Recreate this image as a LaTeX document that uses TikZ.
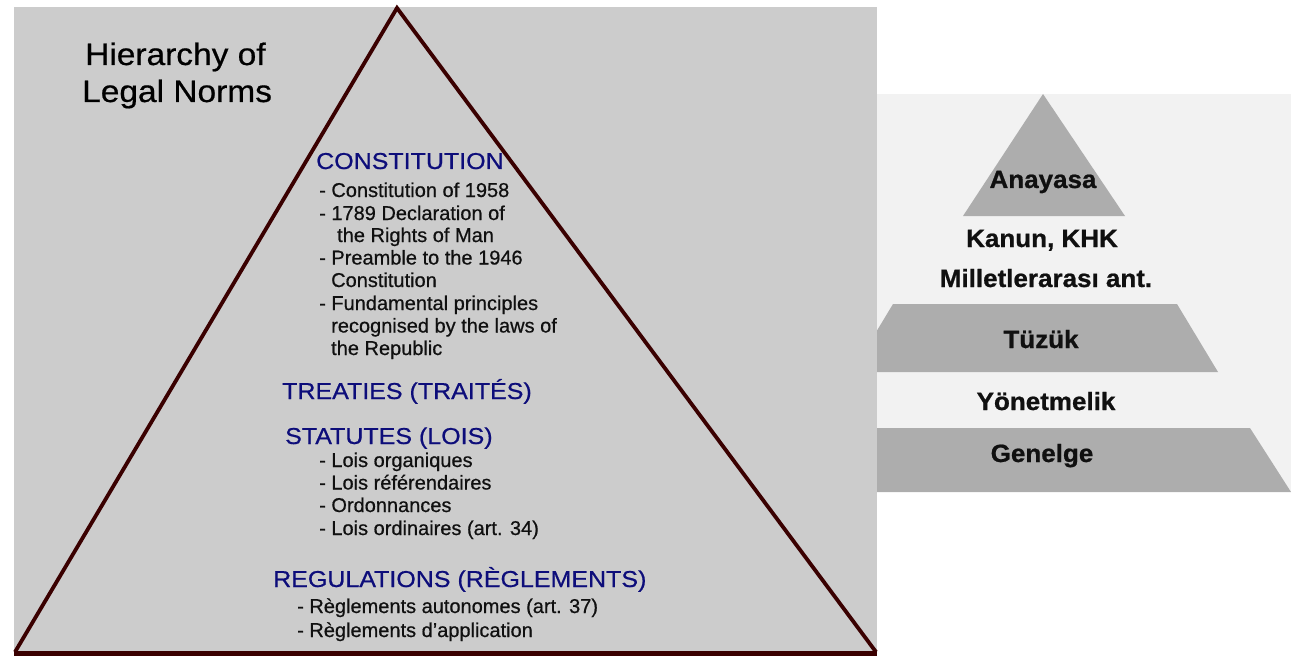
\documentclass[tikz,border=0pt]{standalone}
\usepackage{fontspec}
\setmainfont{Liberation Sans}
\newfontfamily\lefttxt[FakeBold=0.6]{Liberation Sans}
\newfontfamily\righttxt[FakeBold=0.8]{Liberation Sans Bold}
\definecolor{panelgrey}{HTML}{CCCCCC}
\definecolor{rightbg}{HTML}{F2F2F2}
\definecolor{shapegrey}{HTML}{ADADAD}
\definecolor{triline}{HTML}{3A0000}
\definecolor{headblue}{HTML}{0D0D7A}
\definecolor{bodyc}{HTML}{101010}
\tikzset{
  head/.style={anchor=base west, inner sep=0pt, text=headblue, font=\lefttxt\fontsize{23}{23}\selectfont},
  body/.style={anchor=base west, inner sep=0pt, text=bodyc, font=\lefttxt\fontsize{20}{20}\selectfont},
  titletext/.style={anchor=base west, inner sep=0pt, text=black, font=\lefttxt\fontsize{31}{31}\selectfont},
  rtext/.style={anchor=base, inner sep=0pt, text=bodyc, font=\righttxt\fontsize{25}{25}\selectfont},
  triedge/.style={draw=triline, line width=3.8pt, line join=miter},
}
\newcommand{\hs}[1]{\scalebox{1.087}[1]{#1}}
\begin{document}
\begin{tikzpicture}[x=1pt,y=-1pt]
\useasboundingbox (0,0) rectangle (1299,658);
% panels
\fill[panelgrey] (14,7) rectangle (877,656);
\fill[rightbg] (877,94) rectangle (1291,492);
\begin{scope}
  \clip (877,94) rectangle (1291,492);
  \fill[shapegrey] (1043,94) -- (1125,216) -- (963,216) -- cycle;
  \fill[shapegrey] (893,304) -- (1177,304) -- (1218,372) -- (852,372) -- cycle;
  \fill[shapegrey] (860,428) -- (1250,428) -- (1291,492) -- (860,492) -- cycle;
\end{scope}
% big triangle
\coordinate (apex) at (397,8);
\coordinate (bl) at (15,652);
\coordinate (br) at (876,652);
\draw[triedge] (bl) -- (apex) -- (br);
\draw[draw=triline, line width=5pt] (14,653) -- (877,653);
% title
\node[titletext] (t1) at (85,65) {\scalebox{1.08}[1]{Hierarchy of}};
\node[titletext] (t2) at (82,102) {\scalebox{1.08}[1]{Legal Norms}};
% constitution
\node[head] (h1) at (316,169) {\hs{CONSTITUTION}};
\node[body] (c1) at (319,197) {- Constitution of 1958};
\node[body] (c2) at (319,220) {- 1789 Declaration of};
\node[body] (c3) at (337,242) {the Rights of Man};
\node[body] (c4) at (319,264.5) {- Preamble to the 1946};
\node[body] (c5) at (331,287) {Constitution};
\node[body] (c6) at (319,310) {- Fundamental principles};
\node[body] (c7) at (331,332.5) {recognised by the laws of};
\node[body] (c8) at (331,355) {the Republic};
% treaties
\node[head] (h2) at (282,399) {\hs{TREATIES (TRAITÉS)}};
% statutes
\node[head] (h3) at (285,444) {\hs{STATUTES (LOIS)}};
\node[body] (s1) at (319,467) {- Lois organiques};
\node[body] (s2) at (319,489.5) {- Lois référendaires};
\node[body] (s3) at (319,512) {- Ordonnances};
\node[body] (s4) at (319,535) {- Lois ordinaires (art. 34)};
% regulations
\node[head] (h4) at (273,587) {\hs{REGULATIONS (RÈGLEMENTS)}};
\node[body] (r1) at (297,613) {- Règlements autonomes (art. 37)};
\node[body] (r2) at (297,637) {- Règlements d’application};
% right pyramid texts
\node[rtext] (k1) at (1043,188) {\scalebox{1.04}[1]{Anayasa}};
\node[rtext] (k2) at (1042,247) {\scalebox{1.04}[1]{Kanun, KHK}};
\node[rtext] (k3) at (1046,287) {\scalebox{1.04}[1]{Milletlerarası ant.}};
\node[rtext] (k4) at (1041,348) {\scalebox{1.04}[1]{Tüzük}};
\node[rtext] (k5) at (1046,410) {\scalebox{1.04}[1]{Yönetmelik}};
\node[rtext] (k6) at (1042,462) {\scalebox{1.04}[1]{Genelge}};
\end{tikzpicture}
\end{document}
